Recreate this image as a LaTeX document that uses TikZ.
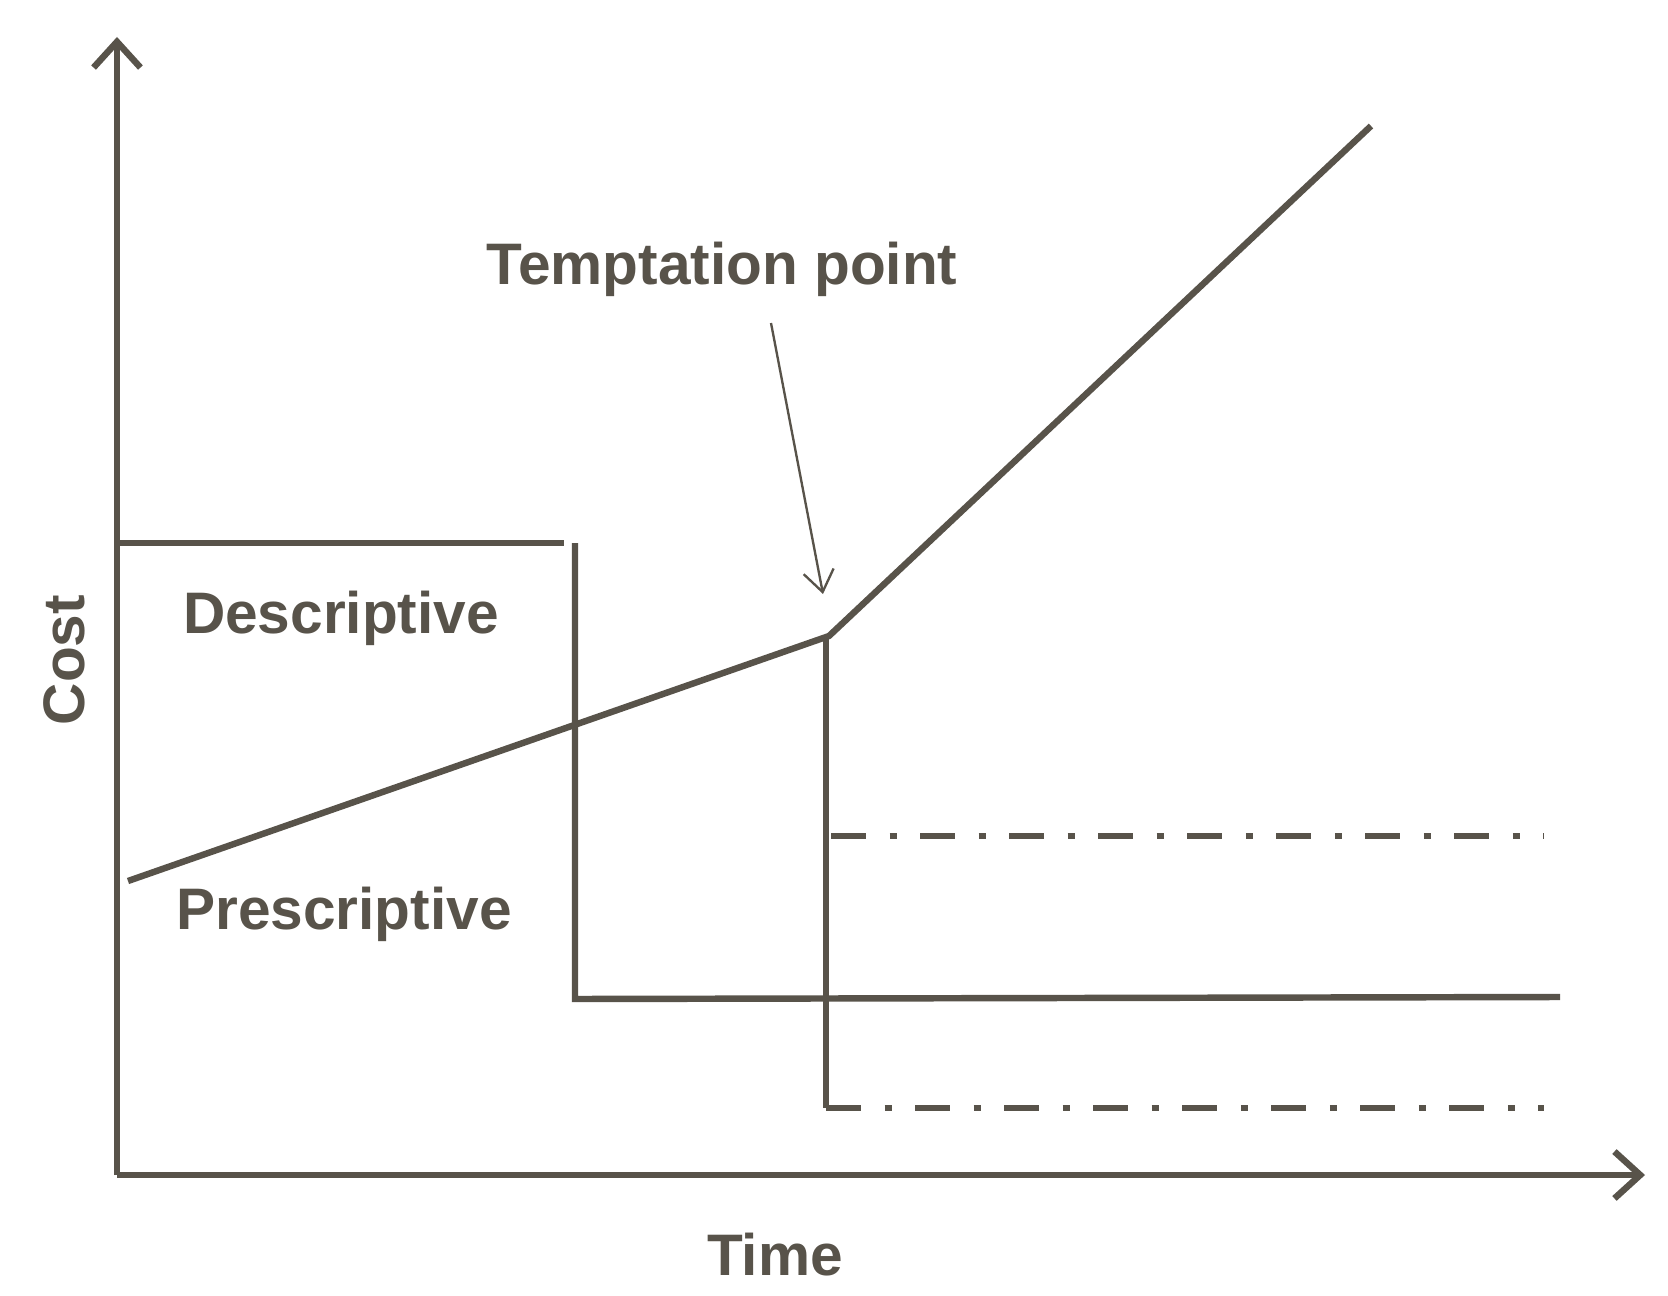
\documentclass[tikz,border=0pt]{standalone}
\usepackage{fontspec}
\setmainfont{Liberation Sans}
\usetikzlibrary{arrows.meta}
\definecolor{ink}{HTML}{58534A}
\begin{document}
\begin{tikzpicture}[x=0.03cm,y=-0.03cm,
  ln/.style={draw=ink,line width=5.5pt},
  dd/.style={draw=ink,line width=5.5pt,dash pattern=on 30pt off 20pt on 6pt off 20pt},
  lab/.style={text=ink,font=\bfseries\fontsize{50}{56}\selectfont}]
\useasboundingbox (0,0) rectangle (1668,1296);
\coordinate (o) at (117,1175);
\coordinate (ytop) at (117,37);
\coordinate (xend) at (1645,1175);
\draw[ln,-{Straight Barb[length=22pt,width=40pt]}] (o) -- (ytop);
\draw[ln,-{Straight Barb[length=22pt,width=40pt]}] (o) -- (xend);
\coordinate (d1) at (117,543); \coordinate (d2) at (564,543);
\coordinate (d3) at (575,543); \coordinate (d4) at (575,999); \coordinate (d5) at (1560,997);
\draw[ln] (d1) -- (d2);
\draw[ln] (d3) -- (d4) -- (d5);
\coordinate (p1) at (128,881); \coordinate (tp) at (829,636); \coordinate (p3) at (1371,126);
\draw[ln,line join=round] (p1) -- (tp) -- (p3);
\coordinate (v2) at (826,1108); \coordinate (v3) at (1544,1108);
\coordinate (u1) at (831,836); \coordinate (u2) at (1544,836);
\draw[ln] (826,636) -- (v2);
\draw[dd] (v2) -- (v3);
\draw[dd] (u1) -- (u2);
\node[lab] (temp) at (722,269) {Temptation point};
\coordinate (a1) at (771,323); \coordinate (a2) at (823,594);
\draw[draw=ink,line width=2pt,-{Straight Barb[length=18pt,width=26pt]}] (a1) -- (a2);
\node[lab] (desc) at (341,618) {Descriptive};
\node[lab] (pres) at (344,914) {Prescriptive};
\node[lab,rotate=90] (cost) at (64,660) {Cost};
\node[lab] (time) at (775,1255) {Time};
\end{tikzpicture}
\end{document}
